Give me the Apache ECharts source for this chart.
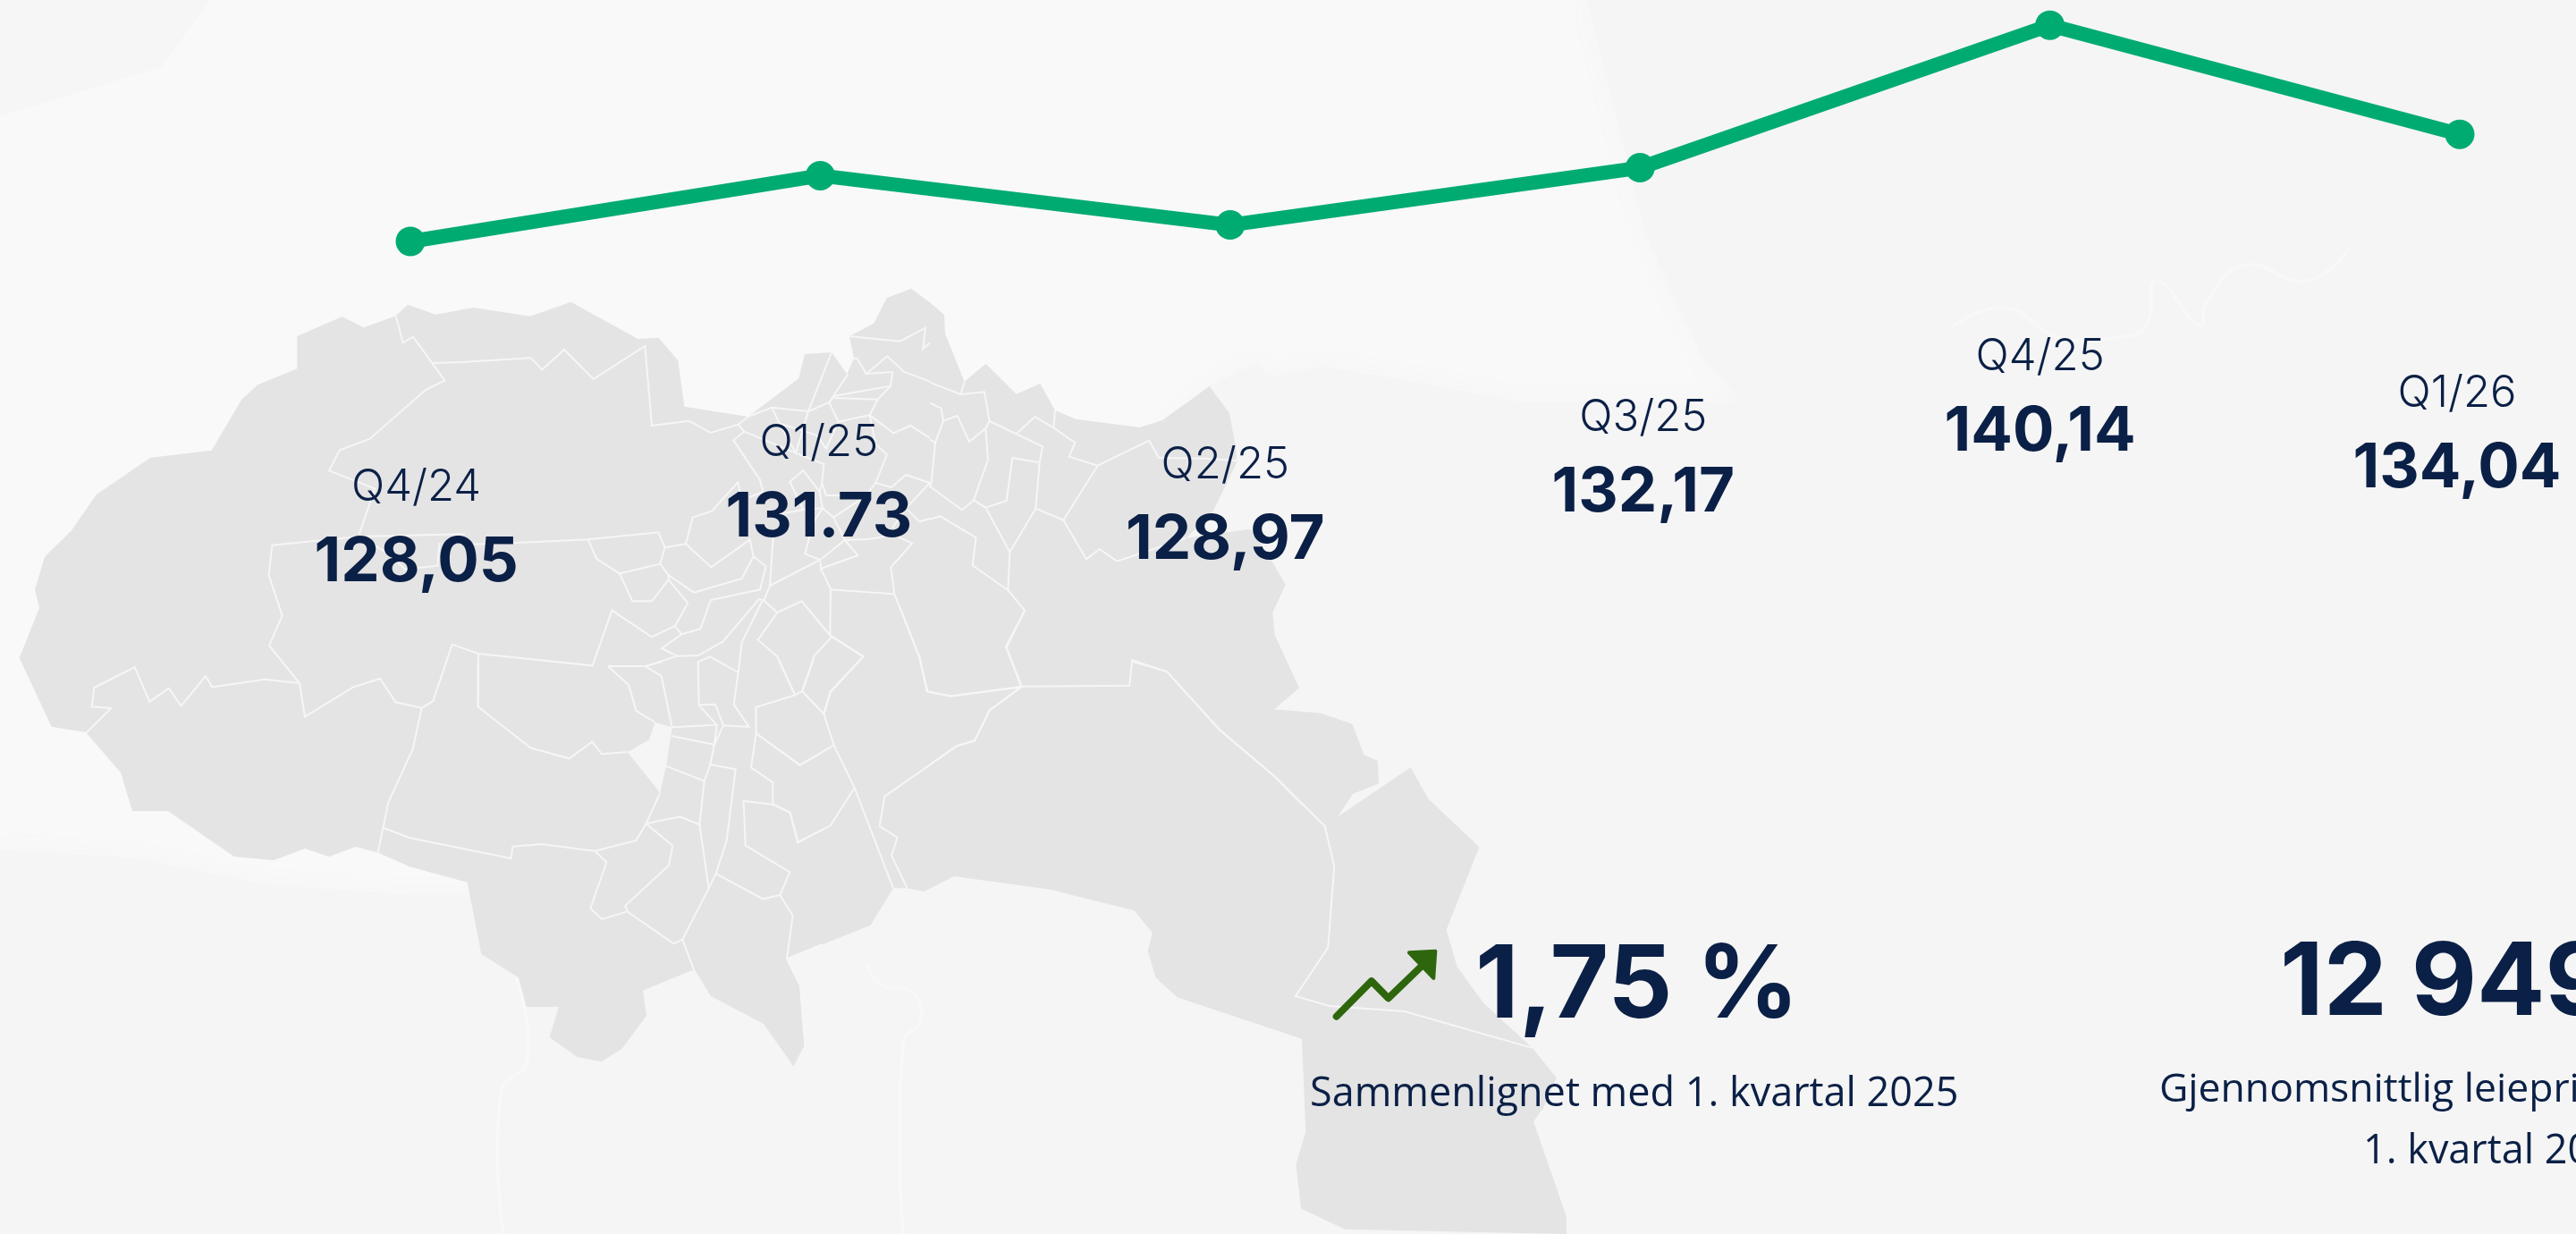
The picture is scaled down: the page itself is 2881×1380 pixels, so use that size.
<!DOCTYPE html>
<html>
<head>
<meta charset="utf-8">
<style>html,body{margin:0;padding:0;background:#f9f9f9;overflow:hidden}#c{width:2881px;height:1380px}</style>
<script src="https://cdn.jsdelivr.net/npm/echarts@6/dist/echarts.min.js"></script>
</head>
<body>
<div id="c"></div>
<script>
// ---- chart data ----
const quarters = ['Q4/24', 'Q1/25', 'Q2/25', 'Q3/25', 'Q4/25', 'Q1/26'];
const priceValues = [128.05, 131.73, 128.97, 132.17, 140.14, 134.04];
const priceLabels = ['128,05', '131.73', '128,97', '132,17', '140,14', '134,04'];
const labelShiftX = [6.6, -1.5, -5.5, 3.6, -11, -3];
const labelShiftY = [276, 299, 269, 280, 372, 291];
const changeText = '1,75 %';
const changeNote = 'Sammenlignet med 1. kvartal 2025';
const rentText = '12 949';
const rentNote1 = 'Gjennomsnittlig leiepris';
const rentNote2 = '1. kvartal 2026';

// ---- decorative background map (not data), traced per crop: [originX, originY, scale, [x,y,...]] ----
const S5 = [0, 320, 3], S6 = [520, 320, 3], S7 = [1040, 380, 3], S8 = [400, 740, 3], S9 = [700, 680, 3], S10 = [1200, 740, 2.45];
const tr = (o, a) => { const r = []; for (let i = 0; i < a.length; i += 2) r.push([o[0] + a[i] / o[2], o[1] + a[i + 1] / o[2]]); return r; };
const outline = [].concat(
  tr(S5, [65,1247,132,1080,117,1018,150,908,240,820,323,700,505,575,710,551,810,382,865,331,997,277,997,168,1148,102,1220,139,1328,100,1368,62,1462,95,1560,77]),
  tr(S6, [30,72,218,101,356,53,580,177,650,173,715,250,736,404,950,438,1120,310,1140,228,1230,222,1282,295,1305,242,1290,168,1373,124,1415,40,1497,8,1560,55]),
  [[1056,352],[1057,373]],
  tr(S7, [116,140,188,80,290,182,370,147,420,237,490,266,705,294,780,270,938,156,1005,247,1026,360,1030,410,950,575,860,665,1075,635,1135,720,1193,822,1150,915,1157,990,1239,1168,1155,1240]),
  tr(S10, [678,141,766,171,797,255,835,272,838,334,767,362,725,425,925,290,974,376,1113,508,1023,735,1053,836,1125,935,1258,1058,1325,1140,1290,1220,1262,1260,1352,1520,1352,1568,745,1555,625,1498,611,1378,638,1288,627,1033,287,920,227,866,205,792,218,743,168,682,0,640]),
  tr(S9, [1430,945,1100,900,1000,951,944,940,897,940,820,1064,540,1177,585,1270,601,1470,565,1541,462,1395,285,1302,230,1212,57,1283,69,1367]),
  tr(S8, [887,1298,818,1342,738,1327,644,1260,675,1158,566,1158,540,1060,415,981,368,740,175,688,70,641]),
  [[398,947],[368,958],[341,949],[306,962],[262,958],[188,907],[148,907],[135,864],[96,819]],
  tr(S5, [173,1478])
);
const mapHole = tr(S8, [905,303,978,262,997,203,1055,220,1035,350,1015,440]);

const linesS5 = [
 [1328,100,1352,190,1386,170,1492,316,1428,348,1240,513,1140,550,1104,619,1258,680,1205,832],
 [913,869,1205,840,1560,832],[913,869,902,970,947,1105,903,1206,1005,1332,888,1319,712,1345,690,1308,608,1408,566,1349,502,1394,452,1278,316,1347,308,1411,373,1416,290,1498],
 [1205,840,1300,895,1360,950,1468,938,1475,860],[1450,258,1560,254],
 [1005,1332,1023,1445,1188,1344,1275,1317,1328,1396,1415,1415,1453,1392,1517,1202,1560,1217]
];
const linesS6 = [
 [0,254,221,241,259,280,333,213,431,312,604,201,627,468,752,452,824,492,917,464,950,438],
 [0,867,160,862,413,850,649,826,671,877,655,932,519,964,442,915,413,850],
 [0,1217,45,1233,428,1273,493,1088,627,1177,705,1140,748,1063,683,985,627,1057,562,1057,519,964],
 [655,932,683,970,683,985],[683,970,769,1028,929,981,968,907,955,845],[741,865,826,943,957,850],
 [671,877,741,865,764,776,828,755,916,658,925,700],[45,1233,44,1410],
 [604,1276,712,1241,783,1239],[712,1241,660,1215,727,1168,705,1140],
 [727,1168,790,1150,825,1053,990,1018,1010,940,968,907],[783,1239,865,1193,987,1050,1003,1055],
 [781,1261,823,1243,917,1296],[997,1057,929,1195,917,1296],[1003,1055,1048,1095,1130,1057,1225,1172,1227,1018,1441,1033,1525,1245,1552,1360],
 [1048,1095,983,1187,1048,1242,1108,1372],[1225,1172,1336,1243,1226,1360,1205,1435],[1232,1175,1172,1240,1132,1360],
 [1003,1055,1023,1005,1192,918,1275,852,1353,849,1440,835,1501,863,1429,943,1441,1033],[1023,1005,1034,845],
 [1192,918,1141,898,1170,790,1200,745],[1192,918,1194,948,1318,903,1275,852],[1194,948,1228,1018],
 [950,438,1030,407,1152,420,1222,390,1285,295],[917,464,937,488,901,517,990,650,1000,690,955,708],
 [937,488,1110,560,1204,597,1198,660,1190,690,1200,745],[1190,690,1135,618,1090,656,1135,750,1055,765],[1135,750,1200,745],
 [1198,660,1212,702,1260,702],[1200,745,1236,776,1275,852],
 [1236,776,1343,705,1378,660,1416,565,1378,530,1358,433,1385,380,1428,335,1435,288,1347,294,1417,235,1474,288,1560,320],
 [1428,335,1240,368,1222,390,1253,455,1360,432],[1240,375,1385,380],[1347,294,1316,243,1305,242],
 [1152,420,1230,222],[1030,407,1055,460,1110,560,1152,420],[1180,500,1212,545,1253,455],[1055,460,1180,500],
 [1358,433,1438,493,1495,468,1560,510],[1378,660,1430,675,1480,633,1560,660,1480,745,1525,790,1560,780],[1480,745,1435,810],
 [1290,168,1460,185,1545,140,1537,210,1560,190]
];
const linesS7 = [
 [0,143,103,183,116,140],[103,183,183,175,200,273,187,297,132,342,92,255,45,272,38,230,0,212],[45,272,18,345,0,335],
 [18,345,5,480,0,492,108,571,147,538,195,402,187,297],[147,538,187,563,257,540,277,396,368,412,378,358,200,273],
 [291,315,352,258,415,295,420,237],[415,295,487,345,467,392,563,422,736,338,768,396,920,398,1030,405],
 [563,422,448,605,355,566,368,412],[448,605,525,736,569,702,628,743,860,665],[355,566,268,712,187,563],
 [268,712,262,840,143,757,155,664,35,592,0,602],[262,840,318,908,257,1032,308,1163,670,1160,678,1074,796,1114,973,1310,1153,1462,1250,1560],
 [308,1163,70,1196,0,1182],[305,1165,200,1243,150,1345,88,1363,0,1425]
];
const linesS8 = [
 [215,155,185,293,103,472,68,640],[88,558,175,591,515,660,520,620,618,612,796,635,934,600,968,543,1015,440],
 [796,635,835,673,781,828,820,864,905,838,1060,946,1090,932,1128,1033],
 [905,838,898,818,1044,683,1057,618,968,543,1081,520,1147,546,1163,400,1035,350],[1163,400,1183,345,1197,278,1052,249],
 [1055,220,1205,212,1145,145,1142,0],[1145,145,1200,143,1227,214,1197,278,1205,212],[1227,214,1313,219,1262,143,1277,37],
 [1183,345,1268,361,1238,600,1202,711,1360,796,1417,783,1450,706,1301,616,1295,467,1393,479,1393,405,1320,355,1337,240,1336,153,1467,112,1415,0],
 [1147,546,1178,760,1202,711],[1178,760,1090,932],[1467,112,1491,99,1560,170],[1491,99,1527,0],[1337,240,1484,347,1560,303],
 [1393,479,1451,506,1477,606,1560,563],[1417,783,1460,852,1440,997,1485,1088,1501,1290,1464,1362],[1440,997,1560,948],
 [404,0,404,151,580,289,710,325,787,268,819,310,905,303],[840,15,964,15,1019,48,1055,220],[840,15,909,78,935,165,997,203],[964,15,1020,0]
];
const linesS9 = [
 [920,0,985,165,1010,280,1090,295,1327,265,1275,130,1338,8],[1327,265,1220,343,1170,445,1110,463,868,632,851,732,911,770,891,830,944,940],
 [690,95,797,162,686,283,664,355,592,280],[664,355,698,460,767,603,897,940],[698,460,583,527,436,420],[767,603,686,730,577,786,551,686,494,658]
];
const linesS10 = [[165,0,257,27,403,187,553,315,690,450,716,560,699,783,610,916,702,943,908,958,1258,1058]];
const mapLines = [].concat(
  linesS5.map(l => tr(S5, l)), linesS6.map(l => tr(S6, l)), linesS7.map(l => tr(S7, l)),
  linesS8.map(l => tr(S8, l)), linesS9.map(l => tr(S9, l)), linesS10.map(l => tr(S10, l))
);
const landShape = [[1775,0],[1843,267],[1903,398],[1950,450],[1700,450],[1560,423],[1477,410],[1417,423],[1407,405],[1353,432],[1100,700],[700,1000],[450,1000],[300,990],[150,960],[0,950],[0,1380],[2881,1380],[2881,0]];
const cornerShape = [[0,0],[235,0],[180,75],[0,130]];
const rivers = [
  [[2628,276],[2581,314],[2510,297],[2468,337],[2460,364],[2412,314],[2400,364],[2370,377],[2302,377],[2242,344],[2182,367]],
  [[577,1093],[590,1183],[560,1223],[563,1380]],
  [[970,1077],[983,1100],[1020,1110],[1030,1140],[1010,1167],[1010,1380]]
];
const arrowLine = tr(S10, [722,972,818,875,864,922,970,820]);
const arrowHead = tr(S10, [921,797,993,793,988,867]);

const ink = '#0b2046';
const green = '#00ab72';
const grey = '#e4e4e4';
const richLabels = {
  q: { fontFamily: 'Inter', fontWeight: 300, fontSize: 49, lineHeight: 66, color: ink },
  v: { fontFamily: 'Inter', fontWeight: 700, fontSize: 69, lineHeight: 102, color: ink }
};
const text = (t, x, y, size, weight, family, extra) => ({
  type: 'text', x, y, z: 10, silent: true,
  style: Object.assign({ text: t, fill: ink, fontFamily: family, fontWeight: weight, fontSize: size, textAlign: 'left', textVerticalAlign: 'middle' }, extra || {})
});

const graphics = [
  { type: 'polygon', z: 0, silent: true, shape: { points: landShape }, style: { fill: '#f5f5f5', shadowBlur: 30, shadowColor: '#f5f5f5' } },
  { type: 'polygon', z: 0, silent: true, shape: { points: cornerShape }, style: { fill: '#f6f6f6' } }
].concat(
  rivers.map(p => ({ type: 'polyline', z: 0, silent: true, shape: { points: p, smooth: 0.5 }, style: { stroke: '#f8f8f8', lineWidth: 4, fill: null } })),
  [{ type: 'polygon', z: 1, silent: true, shape: { points: outline }, style: { fill: grey } },
   { type: 'polygon', z: 1, silent: true, shape: { points: mapHole }, style: { fill: '#f5f5f5' } }],
  mapLines.map(p => ({ type: 'polyline', z: 1, silent: true, shape: { points: p }, style: { stroke: '#f6f6f6', lineWidth: 2, fill: null, lineJoin: 'miter' } })),
  [{ type: 'polyline', z: 10, silent: true, shape: { points: arrowLine }, style: { stroke: '#2e660e', lineWidth: 8, fill: null, lineJoin: 'round', lineCap: 'round' } },
   { type: 'polygon', z: 10, silent: true, shape: { points: arrowHead }, style: { fill: '#2e660e', stroke: '#2e660e', lineWidth: 4, lineJoin: 'round' } },
   text(changeText, 1650, 1104, 113, 700, 'Inter'),
   text(changeNote, 1465, 1224, 45, 400, 'Open Sans'),
   text(rentText, 2550, 1101, 113, 700, 'Inter'),
   text(rentNote1, 2415, 1219, 44.5, 400, 'Open Sans'),
   text(rentNote2, 2643, 1288, 45, 400, 'Open Sans')]
);

const chart = echarts.init(document.getElementById('c'), null, { renderer: 'canvas', width: 2881, height: 1380 });
chart.setOption({
  animation: false,
  backgroundColor: '#f9f9f9',
  tooltip: { show: false },
  legend: { show: false },
  grid: { left: 459, right: 130, top: 11, height: 420 },
  xAxis: { type: 'category', data: quarters, boundaryGap: false, show: false },
  yAxis: { type: 'value', min: 120, max: 141, interval: 3, show: false },
  graphic: graphics,
  series: [{
    type: 'line',
    z: 5,
    clip: false,
    symbol: 'circle',
    symbolSize: 33,
    lineStyle: { color: green, width: 16, cap: 'round' },
    itemStyle: { color: green },
    data: priceValues.map((v, i) => ({
      value: v,
      label: {
        show: true, position: 'bottom', distance: 0,
        offset: [labelShiftX[i], labelShiftY[i] - 33 - 17],
        align: 'center', lineHeight: 66,
        formatter: '{q|' + quarters[i] + '}\n{v|' + priceLabels[i] + '}',
        rich: richLabels
      }
    }))
  }]
});
</script>
</body>
</html>
